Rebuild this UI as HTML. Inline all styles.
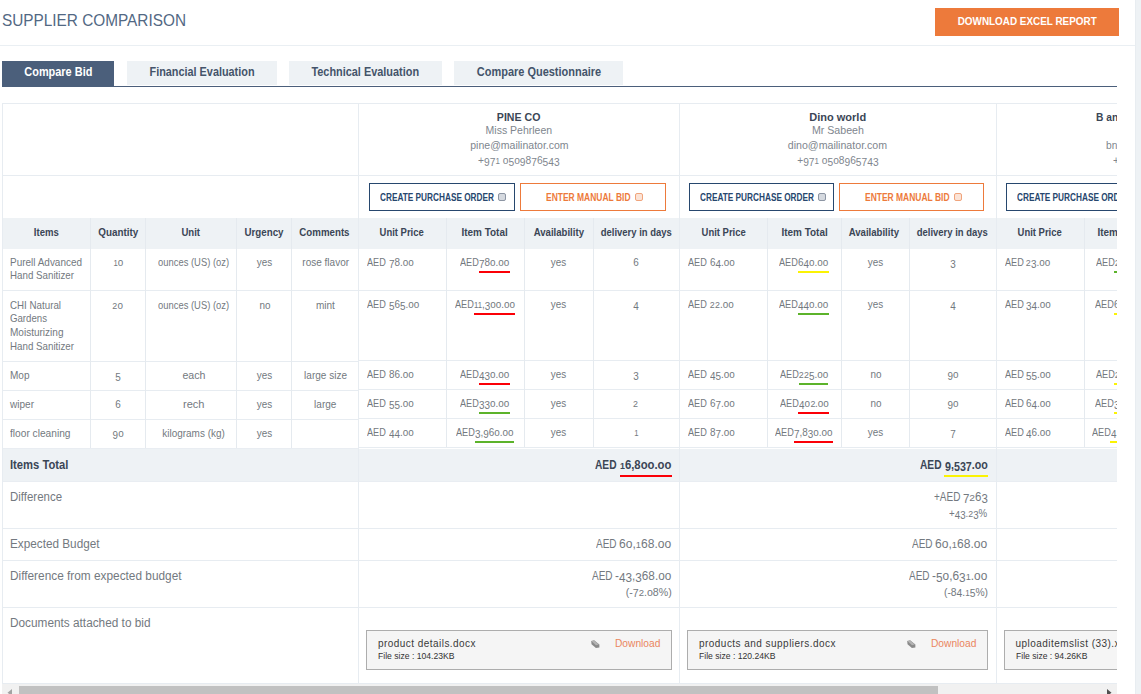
<!DOCTYPE html>
<html><head><meta charset="utf-8"><title>Supplier Comparison</title>
<style>
html,body{margin:0;padding:0;background:#fff;}
body{width:1141px;height:694px;position:relative;overflow:hidden;font-family:"Liberation Sans",sans-serif;}
.b{position:absolute;}
.t{position:absolute;white-space:nowrap;font-family:"Liberation Sans",sans-serif;}
.t i{font-style:normal;}
.t i.s{font-size:0.78em;}
.t i.w{display:inline-block;transform:scaleX(1.15);margin:0 0.042em;}
.t i.d{position:relative;top:0.18em;}
.clip{position:absolute;left:0;top:95px;width:1117px;height:599px;overflow:hidden;}
.clip>*{margin-top:-95px;}
</style></head><body>
<div class="b" style="left:1135px;top:0px;width:6px;height:694px;background:#eef2f5;"></div>
<div class="b" style="left:1135px;top:0px;width:1px;height:694px;background:#e8edf1;"></div>
<div class="b" style="left:0px;top:45px;width:1135px;height:1px;background:#eaeff3;"></div>
<div class="t" style="left:2.00px;top:11.00px;font-size:17px;line-height:19px;font-weight:400;color:#526883;transform:scaleX(0.9031);transform-origin:left center;">SUPPLIER COMPARISON</div>
<div class="b" style="left:935px;top:8px;width:184px;height:28px;background:#ed7a3b;"></div>
<div class="t" style="left:949.79px;top:15.00px;font-size:11px;line-height:12px;font-weight:700;color:#fff;transform:scaleX(0.9002);transform-origin:center center;">DOWNLOAD EXCEL REPORT</div>
<div class="b" style="left:2px;top:61px;width:112px;height:26px;background:#4b5f7b;"></div>
<div class="b" style="left:2px;top:86px;width:1115px;height:1px;background:#4b5f7b;"></div>
<div class="b" style="left:127px;top:61px;width:150px;height:24px;background:#eef2f5;"></div>
<div class="b" style="left:289px;top:61px;width:153px;height:24px;background:#eef2f5;"></div>
<div class="b" style="left:454px;top:61px;width:169px;height:24px;background:#eef2f5;"></div>
<div class="t" style="left:20.66px;top:65.00px;font-size:12px;line-height:14px;font-weight:700;color:#fff;transform:scaleX(0.9106);transform-origin:center center;">Compare Bid</div>
<div class="t" style="left:143.99px;top:65.00px;font-size:12px;line-height:14px;font-weight:700;color:#44546a;transform:scaleX(0.9049);transform-origin:center center;">Financial Evaluation</div>
<div class="t" style="left:306.16px;top:65.00px;font-size:12px;line-height:14px;font-weight:700;color:#44546a;transform:scaleX(0.9082);transform-origin:center center;">Technical Evaluation</div>
<div class="t" style="left:470.73px;top:65.00px;font-size:12px;line-height:14px;font-weight:700;color:#44546a;transform:scaleX(0.9137);transform-origin:center center;">Compare Questionnaire</div>
<div class="clip">
<div class="b" style="left:2px;top:218px;width:1400px;height:31px;background:#eef2f5;"></div>
<div class="b" style="left:2px;top:448px;width:356px;height:34px;background:#eef2f5;"></div>
<div class="b" style="left:358px;top:449px;width:1100px;height:33px;background:#eef2f5;"></div>
<div class="b" style="left:2px;top:448px;width:356px;height:1px;background:#e9edf2;"></div>
<div class="b" style="left:2px;top:481px;width:1398px;height:1px;background:#e9edf2;"></div>
<div class="b" style="left:2px;top:103px;width:1398px;height:1px;background:#e7ecf1;"></div>
<div class="b" style="left:2px;top:103px;width:1px;height:580px;background:#e7ecf1;"></div>
<div class="b" style="left:2px;top:175px;width:1398px;height:1px;background:#e7ecf1;"></div>
<div class="b" style="left:2px;top:290px;width:1398px;height:1px;background:#e7ecf1;"></div>
<div class="b" style="left:2px;top:361px;width:356px;height:1px;background:#e7ecf1;"></div>
<div class="b" style="left:2px;top:390px;width:356px;height:1px;background:#e7ecf1;"></div>
<div class="b" style="left:2px;top:419px;width:356px;height:1px;background:#e7ecf1;"></div>
<div class="b" style="left:358px;top:360px;width:1042px;height:1px;background:#e7ecf1;"></div>
<div class="b" style="left:358px;top:389px;width:1042px;height:1px;background:#e7ecf1;"></div>
<div class="b" style="left:358px;top:418px;width:1042px;height:1px;background:#e7ecf1;"></div>
<div class="b" style="left:358px;top:447px;width:1042px;height:1px;background:#e7ecf1;"></div>
<div class="b" style="left:2px;top:528px;width:1398px;height:1px;background:#e7ecf1;"></div>
<div class="b" style="left:2px;top:560px;width:1398px;height:1px;background:#e7ecf1;"></div>
<div class="b" style="left:2px;top:607px;width:1398px;height:1px;background:#e7ecf1;"></div>
<div class="b" style="left:358px;top:103px;width:1px;height:580px;background:#e7ecf1;"></div>
<div class="b" style="left:679px;top:103px;width:1px;height:580px;background:#e7ecf1;"></div>
<div class="b" style="left:996px;top:103px;width:1px;height:580px;background:#e7ecf1;"></div>
<div class="b" style="left:90px;top:218px;width:1px;height:230px;background:#e5eaef;"></div>
<div class="b" style="left:145px;top:218px;width:1px;height:230px;background:#e5eaef;"></div>
<div class="b" style="left:236px;top:218px;width:1px;height:230px;background:#e5eaef;"></div>
<div class="b" style="left:291px;top:218px;width:1px;height:230px;background:#e5eaef;"></div>
<div class="b" style="left:446px;top:218px;width:1px;height:229px;background:#e5eaef;"></div>
<div class="b" style="left:524px;top:218px;width:1px;height:229px;background:#e5eaef;"></div>
<div class="b" style="left:593px;top:218px;width:1px;height:229px;background:#e5eaef;"></div>
<div class="b" style="left:767px;top:218px;width:1px;height:229px;background:#e5eaef;"></div>
<div class="b" style="left:841px;top:218px;width:1px;height:229px;background:#e5eaef;"></div>
<div class="b" style="left:909px;top:218px;width:1px;height:229px;background:#e5eaef;"></div>
<div class="b" style="left:1084px;top:218px;width:1px;height:229px;background:#e5eaef;"></div>
<div class="t" style="left:32.13px;top:226.20px;font-size:11px;line-height:12px;font-weight:700;color:#3b4656;transform:scaleX(0.8700);transform-origin:center center;">Items</div>
<div class="t" style="left:95.69px;top:226.20px;font-size:11px;line-height:12px;font-weight:700;color:#3b4656;transform:scaleX(0.8966);transform-origin:center center;">Quantity</div>
<div class="t" style="left:180.31px;top:226.20px;font-size:11px;line-height:12px;font-weight:700;color:#3b4656;transform:scaleX(0.8699);transform-origin:center center;">Unit</div>
<div class="t" style="left:241.99px;top:226.20px;font-size:11px;line-height:12px;font-weight:700;color:#3b4656;transform:scaleX(0.8860);transform-origin:center center;">Urgency</div>
<div class="t" style="left:296.08px;top:226.20px;font-size:11px;line-height:12px;font-weight:700;color:#3b4656;transform:scaleX(0.8831);transform-origin:center center;">Comments</div>
<div class="t" style="left:376.33px;top:226.20px;font-size:11px;line-height:12px;font-weight:700;color:#3b4656;transform:scaleX(0.8608);transform-origin:center center;">Unit Price</div>
<div class="t" style="left:459.43px;top:226.20px;font-size:11px;line-height:12px;font-weight:700;color:#3b4656;transform:scaleX(0.9055);transform-origin:center center;">Item Total</div>
<div class="t" style="left:529.66px;top:226.20px;font-size:11px;line-height:12px;font-weight:700;color:#3b4656;transform:scaleX(0.8722);transform-origin:center center;">Availability</div>
<div class="t" style="left:594.73px;top:226.20px;font-size:11px;line-height:12px;font-weight:700;color:#3b4656;transform:scaleX(0.8614);transform-origin:center center;">delivery in days</div>
<div class="t" style="left:698.08px;top:226.20px;font-size:11px;line-height:12px;font-weight:700;color:#3b4656;transform:scaleX(0.8608);transform-origin:center center;">Unit Price</div>
<div class="t" style="left:778.93px;top:226.20px;font-size:11px;line-height:12px;font-weight:700;color:#3b4656;transform:scaleX(0.9055);transform-origin:center center;">Item Total</div>
<div class="t" style="left:845.41px;top:226.20px;font-size:11px;line-height:12px;font-weight:700;color:#3b4656;transform:scaleX(0.8722);transform-origin:center center;">Availability</div>
<div class="t" style="left:911.48px;top:226.20px;font-size:11px;line-height:12px;font-weight:700;color:#3b4656;transform:scaleX(0.8614);transform-origin:center center;">delivery in days</div>
<div class="t" style="left:1014.33px;top:226.20px;font-size:11px;line-height:12px;font-weight:700;color:#3b4656;transform:scaleX(0.8608);transform-origin:center center;">Unit Price</div>
<div class="t" style="left:1095.43px;top:226.20px;font-size:11px;line-height:12px;font-weight:700;color:#3b4656;transform:scaleX(0.9055);transform-origin:center center;">Item Total</div>
<div class="t" style="left:10.40px;top:256.00px;font-size:11px;line-height:12px;font-weight:400;color:#737980;transform:scaleX(0.9057);transform-origin:left center;">Purell Advanced</div>
<div class="t" style="left:10.40px;top:269.30px;font-size:11px;line-height:12px;font-weight:400;color:#737980;transform:scaleX(0.8870);transform-origin:left center;">Hand Sanitizer</div>
<div class="t" style="left:10.40px;top:299.00px;font-size:11px;line-height:12px;font-weight:400;color:#737980;transform:scaleX(0.8876);transform-origin:left center;">CHI Natural</div>
<div class="t" style="left:10.40px;top:312.00px;font-size:11px;line-height:12px;font-weight:400;color:#737980;transform:scaleX(0.8770);transform-origin:left center;">Gardens</div>
<div class="t" style="left:10.40px;top:326.00px;font-size:11px;line-height:12px;font-weight:400;color:#737980;transform:scaleX(0.9116);transform-origin:left center;">Moisturizing</div>
<div class="t" style="left:10.40px;top:339.60px;font-size:11px;line-height:12px;font-weight:400;color:#737980;transform:scaleX(0.8870);transform-origin:left center;">Hand Sanitizer</div>
<div class="t" style="left:10.40px;top:369.00px;font-size:11px;line-height:12px;font-weight:400;color:#737980;transform:scaleX(0.9112);transform-origin:left center;">Mop</div>
<div class="t" style="left:10.40px;top:398.00px;font-size:11px;line-height:12px;font-weight:400;color:#737980;transform:scaleX(0.9130);transform-origin:left center;">wiper</div>
<div class="t" style="left:10.40px;top:427.00px;font-size:11px;line-height:12px;font-weight:400;color:#737980;transform:scaleX(0.9246);transform-origin:left center;">floor cleaning</div>
<div class="t" style="left:112.56px;top:256.00px;font-size:11px;line-height:12px;font-weight:400;color:#737980;transform:scaleX(0.9000);transform-origin:center center;"><i class="s">1</i>o</div>
<div class="t" style="left:152.13px;top:256.00px;font-size:11px;line-height:12px;font-weight:400;color:#737980;transform:scaleX(0.8540);transform-origin:center center;">ounces (US) (oz)</div>
<div class="t" style="left:256.14px;top:256.00px;font-size:11px;line-height:12px;font-weight:400;color:#737980;transform:scaleX(0.9000);transform-origin:center center;">yes</div>
<div class="t" style="left:299.52px;top:256.00px;font-size:11px;line-height:12px;font-weight:400;color:#737980;transform:scaleX(0.9100);transform-origin:center center;">rose flavor</div>
<div class="t" style="left:112.20px;top:299.00px;font-size:11px;line-height:12px;font-weight:400;color:#737980;transform:scaleX(0.9000);transform-origin:center center;"><i class="s w">2</i>o</div>
<div class="t" style="left:152.13px;top:299.00px;font-size:11px;line-height:12px;font-weight:400;color:#737980;transform:scaleX(0.8540);transform-origin:center center;">ounces (US) (oz)</div>
<div class="t" style="left:258.58px;top:299.00px;font-size:11px;line-height:12px;font-weight:400;color:#737980;transform:scaleX(0.9000);transform-origin:center center;">no</div>
<div class="t" style="left:314.81px;top:299.00px;font-size:11px;line-height:12px;font-weight:400;color:#737980;transform:scaleX(0.9100);transform-origin:center center;">mint</div>
<div class="t" style="left:114.94px;top:369.00px;font-size:11px;line-height:12px;font-weight:400;color:#737980;transform:scaleX(0.9000);transform-origin:center center;"><i class="d">5</i></div>
<div class="t" style="left:181.77px;top:369.00px;font-size:11px;line-height:12px;font-weight:400;color:#737980;transform:scaleX(0.9642);transform-origin:center center;">each</div>
<div class="t" style="left:256.14px;top:369.00px;font-size:11px;line-height:12px;font-weight:400;color:#737980;transform:scaleX(0.9000);transform-origin:center center;">yes</div>
<div class="t" style="left:301.66px;top:369.00px;font-size:11px;line-height:12px;font-weight:400;color:#737980;transform:scaleX(0.9100);transform-origin:center center;">large size</div>
<div class="t" style="left:114.94px;top:398.00px;font-size:11px;line-height:12px;font-weight:400;color:#737980;transform:scaleX(0.9000);transform-origin:center center;">6</div>
<div class="t" style="left:183.00px;top:398.00px;font-size:11px;line-height:12px;font-weight:400;color:#737980;transform:scaleX(1.0047);transform-origin:center center;">rech</div>
<div class="t" style="left:256.14px;top:398.00px;font-size:11px;line-height:12px;font-weight:400;color:#737980;transform:scaleX(0.9000);transform-origin:center center;">yes</div>
<div class="t" style="left:312.97px;top:398.00px;font-size:11px;line-height:12px;font-weight:400;color:#737980;transform:scaleX(0.9100);transform-origin:center center;">large</div>
<div class="t" style="left:111.88px;top:427.00px;font-size:11px;line-height:12px;font-weight:400;color:#737980;transform:scaleX(0.9000);transform-origin:center center;"><i class="d">9</i>o</div>
<div class="t" style="left:159.17px;top:427.00px;font-size:11px;line-height:12px;font-weight:400;color:#737980;transform:scaleX(0.9049);transform-origin:center center;">kilograms (kg)</div>
<div class="t" style="left:256.14px;top:427.00px;font-size:11px;line-height:12px;font-weight:400;color:#737980;transform:scaleX(0.9000);transform-origin:center center;">yes</div>
<div class="t" style="left:367.30px;top:256.00px;font-size:11px;line-height:12px;font-weight:400;color:#737980;transform:scaleX(0.8320);transform-origin:left center;">AED</div>
<div class="t" style="left:388.65px;top:256.00px;font-size:11px;line-height:12px;font-weight:400;color:#737980;transform:scaleX(0.9000);transform-origin:left center;"><i class="d">7</i>8.oo</div>
<div class="t" style="left:460.45px;top:256.00px;font-size:11px;line-height:12px;font-weight:400;color:#737980;transform:scaleX(0.8320);transform-origin:left center;">AED</div>
<div class="t" style="left:479.27px;top:256.00px;font-size:11px;line-height:12px;font-weight:400;color:#737980;transform:scaleX(0.9000);transform-origin:left center;"><i class="d">7</i>8o.oo</div>
<div class="b" style="left:479.0px;top:271px;width:30.9px;height:2px;background:#fb0007;"></div>
<div class="t" style="left:549.94px;top:256.00px;font-size:11px;line-height:12px;font-weight:400;color:#737980;transform:scaleX(0.9000);transform-origin:center center;">yes</div>
<div class="t" style="left:633.14px;top:256.00px;font-size:11px;line-height:12px;font-weight:400;color:#737980;transform:scaleX(0.9000);transform-origin:center center;">6</div>
<div class="t" style="left:367.30px;top:298.00px;font-size:11px;line-height:12px;font-weight:400;color:#737980;transform:scaleX(0.8320);transform-origin:left center;">AED</div>
<div class="t" style="left:388.65px;top:298.00px;font-size:11px;line-height:12px;font-weight:400;color:#737980;transform:scaleX(0.9000);transform-origin:left center;"><i class="d">5</i>6<i class="d">5</i>.oo</div>
<div class="t" style="left:455.07px;top:298.00px;font-size:11px;line-height:12px;font-weight:400;color:#737980;transform:scaleX(0.8320);transform-origin:left center;">AED</div>
<div class="t" style="left:473.89px;top:298.00px;font-size:11px;line-height:12px;font-weight:400;color:#737980;transform:scaleX(0.9000);transform-origin:left center;"><i class="s">11</i>,<i class="d">3</i>oo.oo</div>
<div class="b" style="left:473.6px;top:313px;width:41.6px;height:2px;background:#fb0007;"></div>
<div class="t" style="left:549.94px;top:298.00px;font-size:11px;line-height:12px;font-weight:400;color:#737980;transform:scaleX(0.9000);transform-origin:center center;">yes</div>
<div class="t" style="left:633.14px;top:298.00px;font-size:11px;line-height:12px;font-weight:400;color:#737980;transform:scaleX(0.9000);transform-origin:center center;"><i class="d">4</i></div>
<div class="t" style="left:367.30px;top:368.00px;font-size:11px;line-height:12px;font-weight:400;color:#737980;transform:scaleX(0.8320);transform-origin:left center;">AED</div>
<div class="t" style="left:388.65px;top:368.00px;font-size:11px;line-height:12px;font-weight:400;color:#737980;transform:scaleX(0.9000);transform-origin:left center;">86.oo</div>
<div class="t" style="left:460.45px;top:368.00px;font-size:11px;line-height:12px;font-weight:400;color:#737980;transform:scaleX(0.8320);transform-origin:left center;">AED</div>
<div class="t" style="left:479.27px;top:368.00px;font-size:11px;line-height:12px;font-weight:400;color:#737980;transform:scaleX(0.9000);transform-origin:left center;"><i class="d">43</i>o.oo</div>
<div class="b" style="left:479.0px;top:383px;width:30.9px;height:2px;background:#fb0007;"></div>
<div class="t" style="left:549.94px;top:368.00px;font-size:11px;line-height:12px;font-weight:400;color:#737980;transform:scaleX(0.9000);transform-origin:center center;">yes</div>
<div class="t" style="left:633.14px;top:368.00px;font-size:11px;line-height:12px;font-weight:400;color:#737980;transform:scaleX(0.9000);transform-origin:center center;"><i class="d">3</i></div>
<div class="t" style="left:367.30px;top:397.00px;font-size:11px;line-height:12px;font-weight:400;color:#737980;transform:scaleX(0.8320);transform-origin:left center;">AED</div>
<div class="t" style="left:388.65px;top:397.00px;font-size:11px;line-height:12px;font-weight:400;color:#737980;transform:scaleX(0.9000);transform-origin:left center;"><i class="d">55</i>.oo</div>
<div class="t" style="left:460.45px;top:397.00px;font-size:11px;line-height:12px;font-weight:400;color:#737980;transform:scaleX(0.8320);transform-origin:left center;">AED</div>
<div class="t" style="left:479.27px;top:397.00px;font-size:11px;line-height:12px;font-weight:400;color:#737980;transform:scaleX(0.9000);transform-origin:left center;"><i class="d">33</i>o.oo</div>
<div class="b" style="left:479.0px;top:412px;width:30.9px;height:2px;background:#5cb32b;"></div>
<div class="t" style="left:549.94px;top:397.00px;font-size:11px;line-height:12px;font-weight:400;color:#737980;transform:scaleX(0.9000);transform-origin:center center;">yes</div>
<div class="t" style="left:633.46px;top:397.00px;font-size:11px;line-height:12px;font-weight:400;color:#737980;transform:scaleX(0.9000);transform-origin:center center;"><i class="s w">2</i></div>
<div class="t" style="left:367.30px;top:426.00px;font-size:11px;line-height:12px;font-weight:400;color:#737980;transform:scaleX(0.8320);transform-origin:left center;">AED</div>
<div class="t" style="left:388.65px;top:426.00px;font-size:11px;line-height:12px;font-weight:400;color:#737980;transform:scaleX(0.9000);transform-origin:left center;"><i class="d">44</i>.oo</div>
<div class="t" style="left:456.32px;top:426.00px;font-size:11px;line-height:12px;font-weight:400;color:#737980;transform:scaleX(0.8320);transform-origin:left center;">AED</div>
<div class="t" style="left:475.14px;top:426.00px;font-size:11px;line-height:12px;font-weight:400;color:#737980;transform:scaleX(0.9000);transform-origin:left center;"><i class="d">3</i>,<i class="d">9</i>6o.oo</div>
<div class="b" style="left:474.8px;top:441px;width:39.1px;height:2px;background:#5cb32b;"></div>
<div class="t" style="left:549.94px;top:426.00px;font-size:11px;line-height:12px;font-weight:400;color:#737980;transform:scaleX(0.9000);transform-origin:center center;">yes</div>
<div class="t" style="left:633.81px;top:426.00px;font-size:11px;line-height:12px;font-weight:400;color:#737980;transform:scaleX(0.9000);transform-origin:center center;"><i class="s">1</i></div>
<div class="t" style="left:688.30px;top:256.00px;font-size:11px;line-height:12px;font-weight:400;color:#737980;transform:scaleX(0.8320);transform-origin:left center;">AED</div>
<div class="t" style="left:709.65px;top:256.00px;font-size:11px;line-height:12px;font-weight:400;color:#737980;transform:scaleX(0.9000);transform-origin:left center;">6<i class="d">4</i>.oo</div>
<div class="t" style="left:779.45px;top:256.00px;font-size:11px;line-height:12px;font-weight:400;color:#737980;transform:scaleX(0.8320);transform-origin:left center;">AED</div>
<div class="t" style="left:798.27px;top:256.00px;font-size:11px;line-height:12px;font-weight:400;color:#737980;transform:scaleX(0.9000);transform-origin:left center;">6<i class="d">4</i>o.oo</div>
<div class="b" style="left:798.0px;top:271px;width:30.9px;height:2px;background:#fbf304;"></div>
<div class="t" style="left:867.24px;top:256.00px;font-size:11px;line-height:12px;font-weight:400;color:#737980;transform:scaleX(0.9000);transform-origin:center center;">yes</div>
<div class="t" style="left:949.94px;top:256.00px;font-size:11px;line-height:12px;font-weight:400;color:#737980;transform:scaleX(0.9000);transform-origin:center center;"><i class="d">3</i></div>
<div class="t" style="left:688.30px;top:298.00px;font-size:11px;line-height:12px;font-weight:400;color:#737980;transform:scaleX(0.8320);transform-origin:left center;">AED</div>
<div class="t" style="left:709.65px;top:298.00px;font-size:11px;line-height:12px;font-weight:400;color:#737980;transform:scaleX(0.9000);transform-origin:left center;"><i class="s w">2</i><i class="s w">2</i>.oo</div>
<div class="t" style="left:779.45px;top:298.00px;font-size:11px;line-height:12px;font-weight:400;color:#737980;transform:scaleX(0.8320);transform-origin:left center;">AED</div>
<div class="t" style="left:798.27px;top:298.00px;font-size:11px;line-height:12px;font-weight:400;color:#737980;transform:scaleX(0.9000);transform-origin:left center;"><i class="d">44</i>o.oo</div>
<div class="b" style="left:798.0px;top:313px;width:30.9px;height:2px;background:#5cb32b;"></div>
<div class="t" style="left:867.24px;top:298.00px;font-size:11px;line-height:12px;font-weight:400;color:#737980;transform:scaleX(0.9000);transform-origin:center center;">yes</div>
<div class="t" style="left:949.94px;top:298.00px;font-size:11px;line-height:12px;font-weight:400;color:#737980;transform:scaleX(0.9000);transform-origin:center center;"><i class="d">4</i></div>
<div class="t" style="left:688.30px;top:368.00px;font-size:11px;line-height:12px;font-weight:400;color:#737980;transform:scaleX(0.8320);transform-origin:left center;">AED</div>
<div class="t" style="left:709.65px;top:368.00px;font-size:11px;line-height:12px;font-weight:400;color:#737980;transform:scaleX(0.9000);transform-origin:left center;"><i class="d">45</i>.oo</div>
<div class="t" style="left:780.02px;top:368.00px;font-size:11px;line-height:12px;font-weight:400;color:#737980;transform:scaleX(0.8320);transform-origin:left center;">AED</div>
<div class="t" style="left:798.84px;top:368.00px;font-size:11px;line-height:12px;font-weight:400;color:#737980;transform:scaleX(0.9000);transform-origin:left center;"><i class="s w">2</i><i class="s w">2</i><i class="d">5</i>.oo</div>
<div class="b" style="left:798.5px;top:383px;width:29.7px;height:2px;background:#5cb32b;"></div>
<div class="t" style="left:869.68px;top:368.00px;font-size:11px;line-height:12px;font-weight:400;color:#737980;transform:scaleX(0.9000);transform-origin:center center;">no</div>
<div class="t" style="left:946.88px;top:368.00px;font-size:11px;line-height:12px;font-weight:400;color:#737980;transform:scaleX(0.9000);transform-origin:center center;"><i class="d">9</i>o</div>
<div class="t" style="left:688.30px;top:397.00px;font-size:11px;line-height:12px;font-weight:400;color:#737980;transform:scaleX(0.8320);transform-origin:left center;">AED</div>
<div class="t" style="left:709.65px;top:397.00px;font-size:11px;line-height:12px;font-weight:400;color:#737980;transform:scaleX(0.9000);transform-origin:left center;">6<i class="d">7</i>.oo</div>
<div class="t" style="left:779.73px;top:397.00px;font-size:11px;line-height:12px;font-weight:400;color:#737980;transform:scaleX(0.8320);transform-origin:left center;">AED</div>
<div class="t" style="left:798.55px;top:397.00px;font-size:11px;line-height:12px;font-weight:400;color:#737980;transform:scaleX(0.9000);transform-origin:left center;"><i class="d">4</i>o<i class="s w">2</i>.oo</div>
<div class="b" style="left:798.3px;top:412px;width:30.3px;height:2px;background:#fb0007;"></div>
<div class="t" style="left:869.68px;top:397.00px;font-size:11px;line-height:12px;font-weight:400;color:#737980;transform:scaleX(0.9000);transform-origin:center center;">no</div>
<div class="t" style="left:946.88px;top:397.00px;font-size:11px;line-height:12px;font-weight:400;color:#737980;transform:scaleX(0.9000);transform-origin:center center;"><i class="d">9</i>o</div>
<div class="t" style="left:688.30px;top:426.00px;font-size:11px;line-height:12px;font-weight:400;color:#737980;transform:scaleX(0.8320);transform-origin:left center;">AED</div>
<div class="t" style="left:709.65px;top:426.00px;font-size:11px;line-height:12px;font-weight:400;color:#737980;transform:scaleX(0.9000);transform-origin:left center;">8<i class="d">7</i>.oo</div>
<div class="t" style="left:775.32px;top:426.00px;font-size:11px;line-height:12px;font-weight:400;color:#737980;transform:scaleX(0.8320);transform-origin:left center;">AED</div>
<div class="t" style="left:794.14px;top:426.00px;font-size:11px;line-height:12px;font-weight:400;color:#737980;transform:scaleX(0.9000);transform-origin:left center;"><i class="d">7</i>,8<i class="d">3</i>o.oo</div>
<div class="b" style="left:793.8px;top:441px;width:39.1px;height:2px;background:#fb0007;"></div>
<div class="t" style="left:867.24px;top:426.00px;font-size:11px;line-height:12px;font-weight:400;color:#737980;transform:scaleX(0.9000);transform-origin:center center;">yes</div>
<div class="t" style="left:949.94px;top:426.00px;font-size:11px;line-height:12px;font-weight:400;color:#737980;transform:scaleX(0.9000);transform-origin:center center;"><i class="d">7</i></div>
<div class="t" style="left:1004.80px;top:256.00px;font-size:11px;line-height:12px;font-weight:400;color:#737980;transform:scaleX(0.8320);transform-origin:left center;">AED</div>
<div class="t" style="left:1026.15px;top:256.00px;font-size:11px;line-height:12px;font-weight:400;color:#737980;transform:scaleX(0.9000);transform-origin:left center;"><i class="s w">2</i><i class="d">3</i>.oo</div>
<div class="t" style="left:1095.73px;top:256.00px;font-size:11px;line-height:12px;font-weight:400;color:#737980;transform:scaleX(0.8320);transform-origin:left center;">AED</div>
<div class="t" style="left:1114.55px;top:256.00px;font-size:11px;line-height:12px;font-weight:400;color:#737980;transform:scaleX(0.9000);transform-origin:left center;"><i class="s w">2</i><i class="d">3</i>o.oo</div>
<div class="b" style="left:1114.3px;top:271px;width:30.3px;height:2px;background:#5cb32b;"></div>
<div class="t" style="left:1191.44px;top:256.00px;font-size:11px;line-height:12px;font-weight:400;color:#737980;transform:scaleX(0.9000);transform-origin:center center;">yes</div>
<div class="t" style="left:1276.94px;top:256.00px;font-size:11px;line-height:12px;font-weight:400;color:#737980;transform:scaleX(0.9000);transform-origin:center center;"><i class="d">3</i></div>
<div class="t" style="left:1004.80px;top:298.00px;font-size:11px;line-height:12px;font-weight:400;color:#737980;transform:scaleX(0.8320);transform-origin:left center;">AED</div>
<div class="t" style="left:1026.15px;top:298.00px;font-size:11px;line-height:12px;font-weight:400;color:#737980;transform:scaleX(0.9000);transform-origin:left center;"><i class="d">34</i>.oo</div>
<div class="t" style="left:1095.45px;top:298.00px;font-size:11px;line-height:12px;font-weight:400;color:#737980;transform:scaleX(0.8320);transform-origin:left center;">AED</div>
<div class="t" style="left:1114.27px;top:298.00px;font-size:11px;line-height:12px;font-weight:400;color:#737980;transform:scaleX(0.9000);transform-origin:left center;">68o.oo</div>
<div class="b" style="left:1114.0px;top:313px;width:30.9px;height:2px;background:#fbf304;"></div>
<div class="t" style="left:1191.44px;top:298.00px;font-size:11px;line-height:12px;font-weight:400;color:#737980;transform:scaleX(0.9000);transform-origin:center center;">yes</div>
<div class="t" style="left:1276.94px;top:298.00px;font-size:11px;line-height:12px;font-weight:400;color:#737980;transform:scaleX(0.9000);transform-origin:center center;"><i class="d">3</i></div>
<div class="t" style="left:1004.80px;top:368.00px;font-size:11px;line-height:12px;font-weight:400;color:#737980;transform:scaleX(0.8320);transform-origin:left center;">AED</div>
<div class="t" style="left:1026.15px;top:368.00px;font-size:11px;line-height:12px;font-weight:400;color:#737980;transform:scaleX(0.9000);transform-origin:left center;"><i class="d">55</i>.oo</div>
<div class="t" style="left:1095.73px;top:368.00px;font-size:11px;line-height:12px;font-weight:400;color:#737980;transform:scaleX(0.8320);transform-origin:left center;">AED</div>
<div class="t" style="left:1114.55px;top:368.00px;font-size:11px;line-height:12px;font-weight:400;color:#737980;transform:scaleX(0.9000);transform-origin:left center;"><i class="s w">2</i><i class="d">75</i>.oo</div>
<div class="b" style="left:1114.3px;top:383px;width:30.3px;height:2px;background:#fbf304;"></div>
<div class="t" style="left:1191.44px;top:368.00px;font-size:11px;line-height:12px;font-weight:400;color:#737980;transform:scaleX(0.9000);transform-origin:center center;">yes</div>
<div class="t" style="left:1276.94px;top:368.00px;font-size:11px;line-height:12px;font-weight:400;color:#737980;transform:scaleX(0.9000);transform-origin:center center;"><i class="d">3</i></div>
<div class="t" style="left:1004.80px;top:397.00px;font-size:11px;line-height:12px;font-weight:400;color:#737980;transform:scaleX(0.8320);transform-origin:left center;">AED</div>
<div class="t" style="left:1026.15px;top:397.00px;font-size:11px;line-height:12px;font-weight:400;color:#737980;transform:scaleX(0.9000);transform-origin:left center;">6<i class="d">4</i>.oo</div>
<div class="t" style="left:1095.45px;top:397.00px;font-size:11px;line-height:12px;font-weight:400;color:#737980;transform:scaleX(0.8320);transform-origin:left center;">AED</div>
<div class="t" style="left:1114.27px;top:397.00px;font-size:11px;line-height:12px;font-weight:400;color:#737980;transform:scaleX(0.9000);transform-origin:left center;"><i class="d">3</i>8<i class="d">4</i>.oo</div>
<div class="b" style="left:1114.0px;top:412px;width:30.9px;height:2px;background:#fbf304;"></div>
<div class="t" style="left:1191.44px;top:397.00px;font-size:11px;line-height:12px;font-weight:400;color:#737980;transform:scaleX(0.9000);transform-origin:center center;">yes</div>
<div class="t" style="left:1276.94px;top:397.00px;font-size:11px;line-height:12px;font-weight:400;color:#737980;transform:scaleX(0.9000);transform-origin:center center;"><i class="d">3</i></div>
<div class="t" style="left:1004.80px;top:426.00px;font-size:11px;line-height:12px;font-weight:400;color:#737980;transform:scaleX(0.8320);transform-origin:left center;">AED</div>
<div class="t" style="left:1026.15px;top:426.00px;font-size:11px;line-height:12px;font-weight:400;color:#737980;transform:scaleX(0.9000);transform-origin:left center;"><i class="d">4</i>6.oo</div>
<div class="t" style="left:1091.93px;top:426.00px;font-size:11px;line-height:12px;font-weight:400;color:#737980;transform:scaleX(0.8320);transform-origin:left center;">AED</div>
<div class="t" style="left:1110.75px;top:426.00px;font-size:11px;line-height:12px;font-weight:400;color:#737980;transform:scaleX(0.9000);transform-origin:left center;"><i class="d">4</i>,<i class="s">1</i><i class="d">4</i>o.oo</div>
<div class="b" style="left:1110.4px;top:441px;width:37.9px;height:2px;background:#fbf304;"></div>
<div class="t" style="left:1191.44px;top:426.00px;font-size:11px;line-height:12px;font-weight:400;color:#737980;transform:scaleX(0.9000);transform-origin:center center;">yes</div>
<div class="t" style="left:1276.94px;top:426.00px;font-size:11px;line-height:12px;font-weight:400;color:#737980;transform:scaleX(0.9000);transform-origin:center center;"><i class="d">3</i></div>
<div class="t" style="left:496.38px;top:110.80px;font-size:11px;line-height:12px;font-weight:700;color:#3b4656;transform:scaleX(0.9617);transform-origin:center center;">PINE CO</div>
<div class="t" style="left:484.15px;top:123.70px;font-size:11px;line-height:12px;font-weight:400;color:#80868e;transform:scaleX(0.9541);transform-origin:center center;">Miss Pehrleen</div>
<div class="t" style="left:467.56px;top:138.60px;font-size:11px;line-height:12px;font-weight:400;color:#80868e;transform:scaleX(0.9564);transform-origin:center center;">pine@mailinator.com</div>
<div class="t" style="left:475.17px;top:154.30px;font-size:11px;line-height:12px;font-weight:400;color:#80868e;transform:scaleX(0.9297);transform-origin:center center;">+<i class="d">97</i><i class="s">1</i> o<i class="d">5</i>o<i class="d">9</i>8<i class="d">7</i>6<i class="d">543</i></div>
<div class="t" style="left:809.29px;top:110.80px;font-size:11px;line-height:12px;font-weight:700;color:#3b4656;">Dino world</div>
<div class="t" style="left:810.80px;top:123.70px;font-size:11px;line-height:12px;font-weight:400;color:#80868e;transform:scaleX(0.9664);transform-origin:center center;">Mr Sabeeh</div>
<div class="t" style="left:786.26px;top:138.60px;font-size:11px;line-height:12px;font-weight:400;color:#80868e;transform:scaleX(0.9652);transform-origin:center center;">dino@mailinator.com</div>
<div class="t" style="left:793.87px;top:154.30px;font-size:11px;line-height:12px;font-weight:400;color:#80868e;transform:scaleX(0.9274);transform-origin:center center;">+<i class="d">97</i><i class="s">1</i> o<i class="d">5</i>o8<i class="d">9</i>6<i class="d">5743</i></div>
<div class="t" style="left:1096.30px;top:110.80px;font-size:11px;line-height:12px;font-weight:700;color:#3b4656;transform:scaleX(0.9300);transform-origin:left center;">B and M trading LLC</div>
<div class="t" style="left:1105.90px;top:138.60px;font-size:11px;line-height:12px;font-weight:400;color:#80868e;transform:scaleX(0.9277);transform-origin:left center;">bnm@mailinator.com</div>
<div class="t" style="left:1113.20px;top:154.30px;font-size:11px;line-height:12px;font-weight:400;color:#80868e;transform:scaleX(0.9511);transform-origin:left center;">+<i class="d">97</i><i class="s">1</i> o<i class="d">5</i>o<i class="s">1</i><i class="s w">2</i><i class="d">345</i>6<i class="d">7</i></div>
<div class="b" style="left:369px;top:183px;width:146px;height:28px;background:#fff;border:1px solid #27476e;box-sizing:border-box;"></div>
<div class="t" style="left:379.70px;top:192.00px;font-size:10px;line-height:11px;font-weight:700;color:#27476e;transform:scaleX(0.8251);transform-origin:left center;">CREATE PURCHASE ORDER</div>
<div class="b" style="left:498px;top:193.3px;width:8px;height:8px;background:#d5d9df;border:1px solid #8c95a3;box-sizing:border-box;border-radius:2px;"></div>
<div class="b" style="left:520px;top:183px;width:146px;height:28px;background:#fff;border:1px solid #ed7a3b;box-sizing:border-box;"></div>
<div class="t" style="left:545.60px;top:192.00px;font-size:10px;line-height:11px;font-weight:700;color:#ed7a3b;transform:scaleX(0.8465);transform-origin:left center;">ENTER MANUAL BID</div>
<div class="b" style="left:635.2px;top:193.3px;width:8px;height:8px;background:#fbe3d6;border:1px solid #f0a47c;box-sizing:border-box;border-radius:2px;"></div>
<div class="b" style="left:689px;top:183px;width:145px;height:28px;background:#fff;border:1px solid #27476e;box-sizing:border-box;"></div>
<div class="t" style="left:699.70px;top:192.00px;font-size:10px;line-height:11px;font-weight:700;color:#27476e;transform:scaleX(0.8251);transform-origin:left center;">CREATE PURCHASE ORDER</div>
<div class="b" style="left:818px;top:193.3px;width:8px;height:8px;background:#d5d9df;border:1px solid #8c95a3;box-sizing:border-box;border-radius:2px;"></div>
<div class="b" style="left:839px;top:183px;width:145px;height:28px;background:#fff;border:1px solid #ed7a3b;box-sizing:border-box;"></div>
<div class="t" style="left:864.60px;top:192.00px;font-size:10px;line-height:11px;font-weight:700;color:#ed7a3b;transform:scaleX(0.8465);transform-origin:left center;">ENTER MANUAL BID</div>
<div class="b" style="left:954.2px;top:193.3px;width:8px;height:8px;background:#fbe3d6;border:1px solid #f0a47c;box-sizing:border-box;border-radius:2px;"></div>
<div class="b" style="left:1006px;top:183px;width:146px;height:28px;background:#fff;border:1px solid #27476e;box-sizing:border-box;"></div>
<div class="t" style="left:1016.70px;top:192.00px;font-size:10px;line-height:11px;font-weight:700;color:#27476e;transform:scaleX(0.8251);transform-origin:left center;">CREATE PURCHASE ORDER</div>
<div class="b" style="left:1135px;top:193.3px;width:8px;height:8px;background:#d5d9df;border:1px solid #8c95a3;box-sizing:border-box;border-radius:2px;"></div>
<div class="b" style="left:1156px;top:183px;width:146px;height:28px;background:#fff;border:1px solid #ed7a3b;box-sizing:border-box;"></div>
<div class="t" style="left:1181.60px;top:192.00px;font-size:10px;line-height:11px;font-weight:700;color:#ed7a3b;transform:scaleX(0.8465);transform-origin:left center;">ENTER MANUAL BID</div>
<div class="b" style="left:1271.2px;top:193.3px;width:8px;height:8px;background:#fbe3d6;border:1px solid #f0a47c;box-sizing:border-box;border-radius:2px;"></div>
<div class="t" style="left:10.40px;top:458.00px;font-size:12px;line-height:14px;font-weight:700;color:#3b4656;transform:scaleX(0.9351);transform-origin:left center;">Items Total</div>
<div class="t" style="left:10.40px;top:490.00px;font-size:12px;line-height:14px;font-weight:400;color:#737980;transform:scaleX(0.9545);transform-origin:left center;">Difference</div>
<div class="t" style="left:10.40px;top:537.00px;font-size:12px;line-height:14px;font-weight:400;color:#737980;transform:scaleX(0.9792);transform-origin:left center;">Expected Budget</div>
<div class="t" style="left:10.40px;top:569.00px;font-size:12px;line-height:14px;font-weight:400;color:#737980;transform:scaleX(0.9863);transform-origin:left center;">Difference from expected budget</div>
<div class="t" style="left:10.40px;top:615.80px;font-size:12px;line-height:14px;font-weight:400;color:#737980;transform:scaleX(0.9842);transform-origin:left center;">Documents attached to bid</div>
<div class="t" style="left:595.20px;top:458.00px;font-size:12px;line-height:14px;font-weight:700;color:#3b4656;transform:scaleX(0.8500);transform-origin:left center;">AED</div>
<div class="t" style="left:619.86px;top:458.00px;font-size:12px;line-height:14px;font-weight:700;color:#3b4656;transform:scaleX(0.9432);transform-origin:left center;"><i class="s">1</i>6,8oo.oo</div>
<div class="b" style="left:619.6px;top:475px;width:52.0px;height:2px;background:#fb0007;"></div>
<div class="t" style="left:920.00px;top:458.00px;font-size:12px;line-height:14px;font-weight:700;color:#3b4656;transform:scaleX(0.8500);transform-origin:left center;">AED</div>
<div class="t" style="left:944.66px;top:458.00px;font-size:12px;line-height:14px;font-weight:700;color:#3b4656;transform:scaleX(0.8921);transform-origin:left center;"><i class="d">9</i>,<i class="d">537</i>.oo</div>
<div class="b" style="left:944.4px;top:475px;width:43.4px;height:2px;background:#fbf304;"></div>
<div class="t" style="left:933.50px;top:489.50px;font-size:12px;line-height:14px;font-weight:400;color:#737980;transform:scaleX(0.8320);transform-origin:left center;">+AED</div>
<div class="t" style="left:962.62px;top:489.50px;font-size:12px;line-height:14px;font-weight:400;color:#737980;transform:scaleX(0.9566);transform-origin:left center;"><i class="d">7</i><i class="s w">2</i>6<i class="d">3</i></div>
<div class="t" style="left:944.40px;top:507.00px;font-size:11px;line-height:12px;font-weight:400;color:#737980;transform:scaleX(0.8816);transform-origin:right center;">+<i class="d">43</i>.<i class="s w">2</i><i class="d">3</i>%</div>
<div class="t" style="left:596.00px;top:537.00px;font-size:12px;line-height:14px;font-weight:400;color:#737980;transform:scaleX(0.8320);transform-origin:left center;">AED</div>
<div class="t" style="left:619.29px;top:537.00px;font-size:12px;line-height:14px;font-weight:400;color:#737980;transform:scaleX(1.0056);transform-origin:left center;">6o,<i class="s">1</i>68.oo</div>
<div class="t" style="left:912.00px;top:537.00px;font-size:12px;line-height:14px;font-weight:400;color:#737980;transform:scaleX(0.8320);transform-origin:left center;">AED</div>
<div class="t" style="left:935.29px;top:537.00px;font-size:12px;line-height:14px;font-weight:400;color:#737980;transform:scaleX(1.0056);transform-origin:left center;">6o,<i class="s">1</i>68.oo</div>
<div class="t" style="left:592.00px;top:569.00px;font-size:12px;line-height:14px;font-weight:400;color:#737980;transform:scaleX(0.8320);transform-origin:left center;">AED</div>
<div class="t" style="left:615.29px;top:569.00px;font-size:12px;line-height:14px;font-weight:400;color:#737980;transform:scaleX(0.9796);transform-origin:left center;">-<i class="d">43</i>,<i class="d">3</i>68.oo</div>
<div class="t" style="left:623.83px;top:585.50px;font-size:11px;line-height:12px;font-weight:400;color:#737980;transform:scaleX(0.9650);transform-origin:right center;">(-<i class="d">7</i><i class="s w">2</i>.o8%)</div>
<div class="t" style="left:909.00px;top:569.00px;font-size:12px;line-height:14px;font-weight:400;color:#737980;transform:scaleX(0.8320);transform-origin:left center;">AED</div>
<div class="t" style="left:932.29px;top:569.00px;font-size:12px;line-height:14px;font-weight:400;color:#737980;transform:scaleX(0.9874);transform-origin:left center;">-<i class="d">5</i>o,6<i class="d">3</i><i class="s">1</i>.oo</div>
<div class="t" style="left:940.55px;top:585.50px;font-size:11px;line-height:12px;font-weight:400;color:#737980;transform:scaleX(0.9371);transform-origin:right center;">(-8<i class="d">4</i>.<i class="s">1</i><i class="d">5</i>%)</div>
<div class="b" style="left:366px;top:630px;width:306px;height:40px;background:#f5f5f5;border:1px solid #adadad;box-sizing:border-box;"></div>
<div class="t" style="left:378.00px;top:637.80px;font-size:10px;line-height:11px;font-weight:400;color:#3a3a3a;letter-spacing:0.453px;">product details.docx</div>
<div class="t" style="left:378.00px;top:650.70px;font-size:9px;line-height:10px;font-weight:400;color:#333;transform:scaleX(0.9557);transform-origin:left center;">File size : 104.23KB</div>
<svg class="b" style="left:590.7px;top:639.8px" width="9" height="9" viewBox="0 0 9 9"><path d="M0.2 1.1 L3.1 0.2 L8.4 4.5 L8.4 7.6 L4.9 8.1 L0.5 4.2 Z" fill="#8a8a8a"/><path d="M0.6 1.3 L3.0 0.6 L7.8 4.6 L5.0 5.3 Z" fill="#b3b3b3"/></svg>
<div class="t" style="left:615.00px;top:637.80px;font-size:10px;line-height:11px;font-weight:400;color:#ea8560;transform:scaleX(1.0208);transform-origin:left center;">Download</div>
<div class="b" style="left:687px;top:630px;width:301px;height:40px;background:#f5f5f5;border:1px solid #adadad;box-sizing:border-box;"></div>
<div class="t" style="left:699.00px;top:637.80px;font-size:10px;line-height:11px;font-weight:400;color:#3a3a3a;letter-spacing:0.462px;">products and suppliers.docx</div>
<div class="t" style="left:699.00px;top:650.70px;font-size:9px;line-height:10px;font-weight:400;color:#333;transform:scaleX(0.9557);transform-origin:left center;">File size : 120.24KB</div>
<svg class="b" style="left:906.7px;top:639.8px" width="9" height="9" viewBox="0 0 9 9"><path d="M0.2 1.1 L3.1 0.2 L8.4 4.5 L8.4 7.6 L4.9 8.1 L0.5 4.2 Z" fill="#8a8a8a"/><path d="M0.6 1.3 L3.0 0.6 L7.8 4.6 L5.0 5.3 Z" fill="#b3b3b3"/></svg>
<div class="t" style="left:931.00px;top:637.80px;font-size:10px;line-height:11px;font-weight:400;color:#ea8560;transform:scaleX(1.0208);transform-origin:left center;">Download</div>
<div class="b" style="left:1003.5px;top:630px;width:301px;height:40px;background:#f5f5f5;border:1px solid #adadad;box-sizing:border-box;"></div>
<div class="t" style="left:1015.50px;top:637.80px;font-size:10px;line-height:11px;font-weight:400;color:#3a3a3a;letter-spacing:0.452px;">uploaditemslist (33).xlsx</div>
<div class="t" style="left:1015.50px;top:650.70px;font-size:9px;line-height:10px;font-weight:400;color:#333;transform:scaleX(0.9528);transform-origin:left center;">File size : 94.26KB</div>
<svg class="b" style="left:1223.2px;top:639.8px" width="9" height="9" viewBox="0 0 9 9"><path d="M0.2 1.1 L3.1 0.2 L8.4 4.5 L8.4 7.6 L4.9 8.1 L0.5 4.2 Z" fill="#8a8a8a"/><path d="M0.6 1.3 L3.0 0.6 L7.8 4.6 L5.0 5.3 Z" fill="#b3b3b3"/></svg>
<div class="t" style="left:1247.50px;top:637.80px;font-size:10px;line-height:11px;font-weight:400;color:#ea8560;transform:scaleX(1.0208);transform-origin:left center;">Download</div>
<div class="b" style="left:2px;top:683px;width:1398px;height:1px;background:#e7ecf1;"></div>
<div class="b" style="left:2px;top:684px;width:1400px;height:10px;background:#f1f1f1;"></div>
<div class="b" style="left:19px;top:686px;width:919px;height:8px;background:#c1c1c1;"></div>
<svg class="b" style="left:7.3px;top:688.5px" width="6" height="7" viewBox="0 0 6 7"><path d="M5 0 L5 7 L0.5 3.8 Z" fill="#a3a3a3"/></svg>
<svg class="b" style="left:1106px;top:688.5px" width="6" height="7" viewBox="0 0 6 7"><path d="M1 0 L1 7 L5.5 3.8 Z" fill="#505050"/></svg>
</div>
</body></html>
